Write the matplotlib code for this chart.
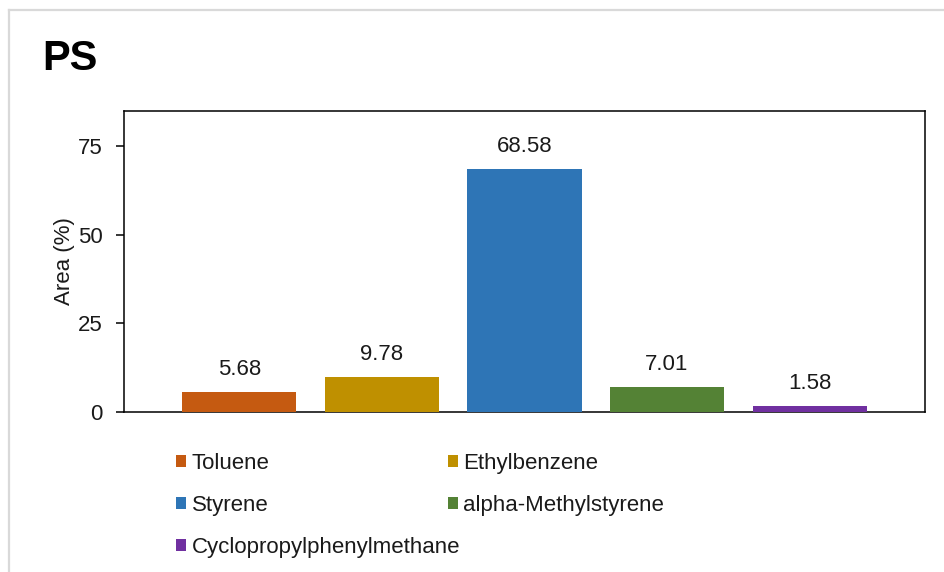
import matplotlib
matplotlib.use("Agg")
import matplotlib.pyplot as plt
from matplotlib.lines import Line2D

plt.rcParams['font.family'] = ['Liberation Sans', 'DejaVu Sans']

# Pyrolysis products of PS
compounds = ["Toluene", "Ethylbenzene", "Styrene", "alpha-Methylstyrene",
             "Cyclopropylphenylmethane"]
area_pct = [5.68, 9.78, 68.58, 7.01, 1.58]
colors = ["#C55A11", "#BF9000", "#2E75B6", "#548235", "#7030A0"]
y_ticks = [0, 25, 50, 75]

fig = plt.figure(figsize=(9.44, 5.72), dpi=100)
fig.patch.set_facecolor("white")

# light frame around the chart area (top and left edges)
fig.add_artist(Line2D([9 / 944, 1.0], [1 - 10 / 572, 1 - 10 / 572],
                      transform=fig.transFigure, color="#D9D9D9", lw=1.6))
fig.add_artist(Line2D([9 / 944, 9 / 944], [0.0, 1 - 10 / 572],
                      transform=fig.transFigure, color="#D9D9D9", lw=1.6))

ax = fig.add_axes([124 / 944, 1 - 411.7 / 572, (925 - 124) / 944, (411.7 - 111) / 572])

x = list(range(len(compounds)))
bars = ax.bar(x, area_pct, width=0.80, color=colors, label=compounds, zorder=3)

for xi, v in zip(x, area_pct):
    ax.annotate(f"{v:.2f}", xy=(xi, v), xytext=(0, 12.3), textcoords="offset points",
                ha="center", va="baseline", fontsize=16, color="#1a1a1a")

ax.set_xlim(-0.81, len(compounds) - 1 + 0.81)
ax.set_ylim(0, 85)
ax.set_yticks(y_ticks)
ax.set_xticks([])
ax.tick_params(axis="y", direction="out", length=6, width=1.1, pad=9.5,
               labelsize=16, labelcolor="#1a1a1a")
for s in ax.spines.values():
    s.set_color("black")
    s.set_linewidth(1.1)

ax.set_ylabel("Area (%)", fontsize=16, color="#1a1a1a", labelpad=2)

fig.text(42 / 944, 1 - 70 / 572, "PS", fontsize=30, fontweight="bold",
         ha="left", va="baseline", color="black")

# legend laid out row by row: two columns
order = [0, 2, 4, 1, 3]
handles = [bars[i] for i in order]
labels = [compounds[i] for i in order]
leg = fig.legend(handles, labels, ncol=2, loc="upper left",
                 bbox_to_anchor=(176 / 944, 1 - 453 / 572), frameon=False,
                 fontsize=16, handlelength=0.45, handleheight=0.45,
                 handletextpad=0.25, columnspacing=-0.55, labelspacing=0.95,
                 borderpad=0, borderaxespad=0)
for t in leg.get_texts():
    t.set_color("#1a1a1a")

fig.savefig("out.png", dpi=100, facecolor="white")
